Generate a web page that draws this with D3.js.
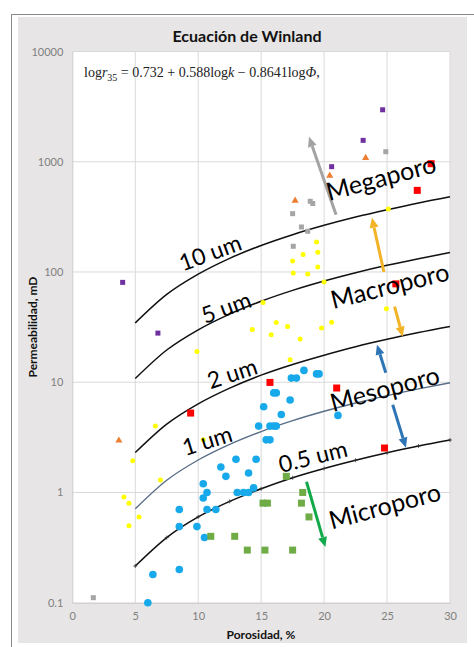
<!DOCTYPE html>
<html><head><meta charset="utf-8">
<script src="https://cdn.jsdelivr.net/npm/d3@7"></script>
<style>body{margin:0;background:#fff}svg{display:block}</style>
</head><body><svg id="c" width="474" height="647"></svg>
<script>
// ---- data ----
const xTicks = [0,5,10,15,20,25,30];
const yTicks = [0.1,1,10,100,1000,10000];
const yTickLabels = ["0.1","1","10","100","1000","10000"];
const phiGrid = [5,7.5,10,12.5,15,17.5,20,22.5,25,27.5,30];
const r10um  = [34.5,62.6,95.6,133,174,218,265,315,367,423,481];
const r5um   = [10.8,19.6,29.9,41.5,54.3,68.1,82.8,98.5,115,132,150];
const r2um   = [2.3,4.17,6.37,8.85,11.6,14.5,17.6,21.0,24.5,28.2,32.0];
const r1um   = [0.71,1.29,1.97,2.73,3.57,4.48,5.45,6.48,7.56,8.70,9.89];
const r05um  = [0.215,0.39,0.60,0.83,1.08,1.36,1.65,1.96,2.29,2.64,2.99];
const purplePts = [[4.0,80.5],[6.8,27.9],[20.6,902],[23.1,1563],[24.65,2960]];
const orangePts = [[3.7,2.96],[17.7,443],[20.45,748],[23.3,1082]];
const greyPts = [[1.67,0.111],[17.5,338],[17.55,171],[18.2,256],[18.7,234],[18.9,438],[19.1,418],[24.9,1233]];
const yellowPts = [[4.1,0.91],[4.5,0.8],[4.5,0.5],[4.8,1.94],[5.3,0.6],[6.6,4.0],[7.0,1.3],[9.9,19],[10.4,3.0],
  [14.3,30],[15.15,53],[15.8,27],[16.2,34.9],[17.1,32],[17.3,16],[18.1,24.7],[19.8,31],[20.6,35],[20.0,81],
  [17.5,126],[17.55,98],[18.33,144],[18.7,96],[19.4,187],[19.5,151],[19.5,111],[24.95,46.4],[25.1,373]];
const redPts = [[9.4,5.25],[15.7,9.96],[21.0,8.86],[24.8,2.53],[25.7,78],[27.4,550],[28.5,960]];
const bluePts = [[6.0,0.1],[6.4,0.18],[8.5,0.2],[8.5,0.49],[8.5,0.7],[9.9,0.49],[10.5,0.39],[10.7,0.7],[11.4,0.7],
  [10.4,0.89],[10.7,1.0],[10.4,1.2],[12.2,1.4],[11.8,1.7],[13.0,2.0],[14.0,1.5],[14.6,2.0],[13.1,1.0],[13.6,1.0],
  [14.0,1.0],[14.4,1.1],[14.8,4.0],[15.7,4.0],[16.0,4.0],[16.2,4.0],[15.2,6.0],[16.0,8.0],[16.2,8.0],[15.4,3.0],
  [15.7,3.0],[17.4,10.9],[17.8,10.9],[18.4,12.8],[19.4,11.9],[19.6,11.9],[17.3,6.9],[16.6,5.1],[21.1,5.0]];
const greenPts = [[11.0,0.4],[12.9,0.4],[13.9,0.3],[15.3,0.3],[17.5,0.3],[15.15,0.8],[15.5,0.8],[18.2,0.8],[18.8,0.6],[17.0,1.4],[18.3,1.0]];
const curveLabels = [["10 um",10.93,152,-20],["5 um",12.2,48.4,-20],["2 um",12.68,12.2,-18],["1 um",10.69,3.0,-17],["0.5 um",19.1,2.15,-14]];
const zoneLabels = [["Megaporo",24.5,730,-15],["Macroporo",25.2,76.7,-14],["Mesoporo",24.8,8.9,-15],["Microporo",24.8,0.77,-15]];
const arrows = [ // [x1,y1,x2,y2,color]
  [20.95,331,18.8,1686,"#a3a3a3"],
  [24.75,100,23.8,310,"#f2b327"],
  [25.6,48.4,26.25,25.9,"#f2b327"],
  [24.9,12.2,24.2,21.9,"#2e75b6"],
  [25.45,6.25,26.5,2.55,"#2e75b6"],
  [18.6,1.25,20.1,0.32,"#12a94a"]];

// ---- layout ----
const svg = d3.select("#c");
svg.append("rect").attr("x",18).attr("y",17).attr("width",449).attr("height",626).attr("fill","#e7e5e5");
svg.append("line").attr("x1",11).attr("x2",474).attr("y1",14.5).attr("y2",14.5).attr("stroke","#8a8a8a");
svg.append("line").attr("x1",11.5).attr("x2",11.5).attr("y1",14).attr("y2",647).attr("stroke","#8a8a8a");

const x = d3.scaleLinear().domain([0,30]).range([72.3,450]);
const y = d3.scaleLog().domain([0.1,10000]).range([602.7,51.5]);
svg.append("rect").attr("x",x(0)).attr("y",y(10000)).attr("width",x(30)-x(0)).attr("height",y(0.1)-y(10000)).attr("fill","#fff");

// grid
svg.append("g").selectAll("line").data(xTicks.slice(1)).join("line")
  .attr("x1",d=>x(d)).attr("x2",d=>x(d)).attr("y1",y(10000)).attr("y2",y(0.1)).attr("stroke","#d9d9d9");
svg.append("g").selectAll("line").data(yTicks.slice(1)).join("line")
  .attr("x1",x(0)).attr("x2",x(30)).attr("y1",d=>y(d)).attr("y2",d=>y(d)).attr("stroke","#d9d9d9");

const font = "Lato, 'Open Sans', sans-serif";
const ax = svg.append("g").attr("transform",`translate(0,${y(0.1)})`)
  .call(d3.axisBottom(x).tickValues(xTicks).tickSize(0).tickPadding(10).tickFormat(d3.format("d")));
const ay = svg.append("g").attr("transform",`translate(${x(0)},0)`)
  .call(d3.axisLeft(y).tickValues(yTicks).tickSize(0).tickPadding(9).tickFormat((d,i)=>yTickLabels[i]));
[ax,ay].forEach(a=>{a.select(".domain").attr("stroke","#c8c8c8");
  a.selectAll("text").attr("fill","#7f7f7f").style("font-family",font).style("font-size","11px");});

// titles
svg.append("text").attr("x",247).attr("y",42).attr("text-anchor","middle")
  .style("font-family",font).style("font-weight","bold").style("font-size","16px").attr("fill","#111").text("Ecuación de Winland");
svg.append("text").attr("x",261).attr("y",639).attr("text-anchor","middle")
  .style("font-family",font).style("font-weight","bold").style("font-size","12px").attr("fill","#111").text("Porosidad, %");
svg.append("text").attr("transform","translate(37,327) rotate(-90)").attr("text-anchor","middle")
  .style("font-family",font).style("font-weight","bold").style("font-size","12px").attr("fill","#111").text("Permeabilidad, mD");

// equation
const eq = svg.append("text").attr("x",84).attr("y",77).style("font-family","'Liberation Serif', serif").style("font-size","14px").attr("fill","#222");
eq.append("tspan").text("log");
eq.append("tspan").style("font-style","italic").text("r");
eq.append("tspan").attr("dy",4).style("font-size","10px").text("35");
eq.append("tspan").attr("dy",-4).text(" = 0.732 + 0.588log");
eq.append("tspan").style("font-style","italic").text("k");
eq.append("tspan").text(" − 0.8641log");
eq.append("tspan").style("font-style","italic").text("Φ");
eq.append("tspan").text(",");

// curves
const line = d3.line().x((d,i)=>x(phiGrid[i])).y(d=>y(d)).curve(d3.curveMonotoneX);
[[r10um,"#111",1.5],[r5um,"#111",1.5],[r2um,"#111",1.5],[r1um,"#5a6e88",1.4],[r05um,"#111",1.5]].forEach(([v,c,w])=>{
  svg.append("path").attr("d",line(v)).attr("fill","none").attr("stroke",c).attr("stroke-width",w);
});
svg.append("g").selectAll("path").data(r05um).join("path")
  .attr("d",(d,i)=>`M${x(phiGrid[i])-2},${y(d)}h4M${x(phiGrid[i])},${y(d)-2}v4`).attr("stroke","#333").attr("stroke-width",0.8);

// points
function squares(data,color,s){svg.append("g").selectAll("rect").data(data).join("rect")
  .attr("x",d=>x(d[0])-s/2).attr("y",d=>y(d[1])-s/2).attr("width",s).attr("height",s).attr("fill",color);}
function circles(data,color,r){svg.append("g").selectAll("circle").data(data).join("circle")
  .attr("cx",d=>x(d[0])).attr("cy",d=>y(d[1])).attr("r",r).attr("fill",color);}
circles(yellowPts,"#ffff00",2.5);
circles(bluePts,"#17a9ea",3.8);
squares(greenPts,"#6fac46",7);
squares(greyPts,"#a5a5a5",5);
squares(purplePts,"#7030a0",5);
squares(redPts,"#ff0000",7);
svg.append("g").selectAll("path").data(orangePts).join("path")
  .attr("d",d3.symbol(d3.symbolTriangle,22)).attr("transform",d=>`translate(${x(d[0])},${y(d[1])})`).attr("fill","#ed7d31");

// arrows
arrows.forEach(([a,b,c,d,col])=>{
  const x1=x(a),y1=y(b),x2=x(c),y2=y(d);
  const ang=Math.atan2(y2-y1,x2-x1), L=10, W=4.5;
  const bx=x2-L*Math.cos(ang), by=y2-L*Math.sin(ang);
  svg.append("line").attr("x1",x1).attr("y1",y1).attr("x2",bx).attr("y2",by).attr("stroke",col).attr("stroke-width",3);
  svg.append("path").attr("d",`M${x2},${y2}L${bx+W*Math.sin(ang)},${by-W*Math.cos(ang)}L${bx-W*Math.sin(ang)},${by+W*Math.cos(ang)}Z`).attr("fill",col);
});

// labels
[...curveLabels.map(d=>[...d,23]),...zoneLabels.map(d=>[...d,25])].forEach(([t,a,b,r,fs])=>{
  svg.append("text").attr("transform",`translate(${x(a)},${y(b)}) rotate(${r})`).attr("text-anchor","middle")
    .attr("dominant-baseline","central").style("font-family",font).style("font-size",fs+"px").attr("fill","#000").text(t);
});
</script></body></html>
